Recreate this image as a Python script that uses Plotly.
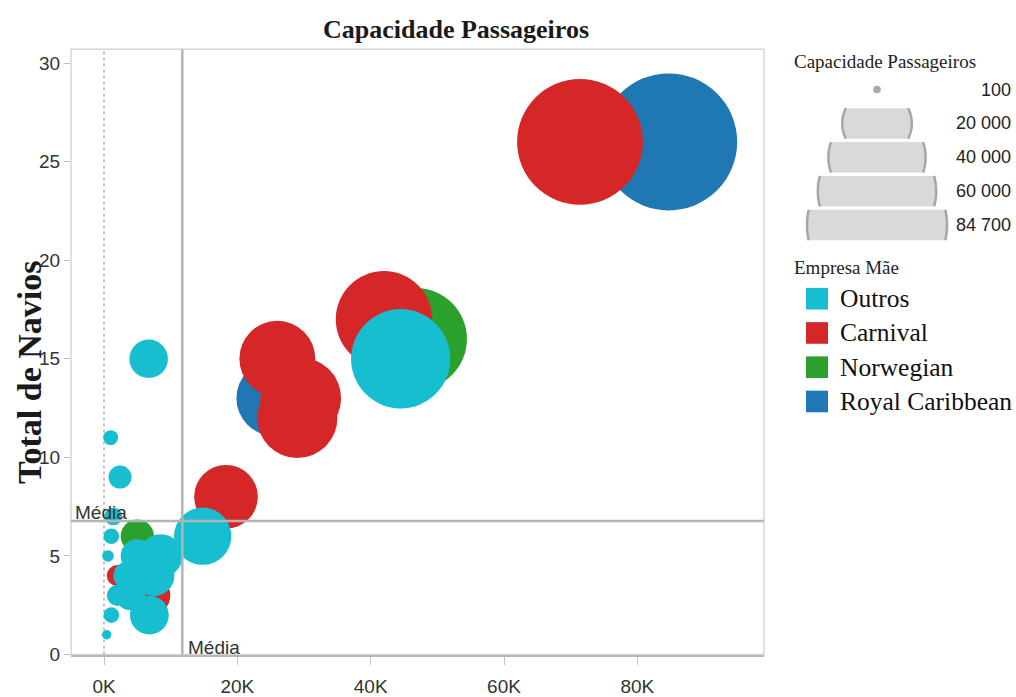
import math
import plotly.graph_objects as go

# ---- data -------------------------------------------------------------
companies = ["Outros", "Carnival", "Norwegian", "Royal Caribbean"]
company_colors = ["#17becf", "#d62728", "#2ca02c", "#1f77b4"]

outros_capacity = [44500, 14800, 6700, 1000, 2400, 1400, 1100, 600, 8500,
                   7500, 5000, 3500, 2000, 4000, 6800, 1100, 400]
outros_ships = [15, 6, 15, 11, 9, 7, 6, 5, 5, 4, 5, 4, 3, 3, 2, 2, 1]

carnival_capacity = [71400, 42000, 26000, 29500, 29000, 18300, 2000, 7000]
carnival_ships = [26, 17, 15, 13, 12, 8, 4, 3]

norwegian_capacity = [46800, 5000]
norwegian_ships = [16, 6]

royal_capacity = [84700, 25500]
royal_ships = [26, 13]

mean_capacity = 11750
mean_ships = 6.77

x_tick_values = [0, 20000, 40000, 60000, 80000]
x_tick_labels = ["0K", "20K", "40K", "60K", "80K"]
y_tick_values = [0, 5, 10, 15, 20, 25, 30]

size_legend_values = [100, 20000, 40000, 60000, 84700]
size_legend_labels = ["100", "20 000", "40 000", "60 000", "84 700"]

# ---- geometry / style ---------------------------------------------------
W, H = 1016, 697
PLOT_L, PLOT_R, PLOT_T, PLOT_B = 71, 764, 50, 665
MAX_BUBBLE_PX = 137
SERIF = "Liberation Serif"
SANS = "Liberation Sans"

max_capacity = max(royal_capacity + carnival_capacity + norwegian_capacity + outros_capacity)
# plotly area sizing: diameter = sqrt(2 * value / sizeref)
sizeref = 2.0 * max_capacity / MAX_BUBBLE_PX ** 2


def bubble_diameter(value):
    return math.sqrt(2.0 * value / sizeref)


def px(x):
    return x / W


def py(y):
    return 1 - y / H


series = {
    "Outros": (outros_capacity, outros_ships),
    "Carnival": (carnival_capacity, carnival_ships),
    "Norwegian": (norwegian_capacity, norwegian_ships),
    "Royal Caribbean": (royal_capacity, royal_ships),
}
color_of = dict(zip(companies, company_colors))

fig = go.Figure()

# draw back-to-front: Royal Caribbean, Norwegian, Carnival, Outros on top
for name in reversed(companies):
    cap, ships = series[name]
    fig.add_trace(go.Scatter(
        x=cap, y=ships, mode="markers", name=name,
        marker=dict(size=cap, sizemode="area", sizeref=sizeref,
                    color=color_of[name], opacity=1, line=dict(width=0)),
        hovertemplate=name + "<br>%{x:,} passageiros<br>%{y} navios<extra></extra>",
    ))

shapes = []
annotations = []

# pane border
shapes.append(dict(type="rect", xref="x domain", yref="y domain", x0=0, x1=1, y0=0, y1=1,
                   line=dict(color="#d6d6d6", width=1.5), layer="below"))
# zero line (dotted)
shapes.append(dict(type="line", xref="x", yref="y domain", x0=0, x1=0, y0=0, y1=1,
                   line=dict(color="#a0a0a0", width=1.2, dash="dot"), layer="below"))
# average reference lines
shapes.append(dict(type="line", xref="x", yref="y domain", x0=mean_capacity, x1=mean_capacity,
                   y0=0, y1=1, line=dict(color="#b4b4b4", width=2.5), layer="above"))
shapes.append(dict(type="line", xref="x domain", yref="y", x0=0, x1=1, y0=mean_ships,
                   y1=mean_ships, line=dict(color="#b4b4b4", width=2.5), layer="above"))

annotations.append(dict(text="Média", xref="x domain", yref="y", x=0, y=mean_ships,
                        xanchor="left", yanchor="bottom", xshift=2, yshift=-4, showarrow=False,
                        font=dict(family=SANS, size=19, color="#333")))
annotations.append(dict(text="Média", xref="x", yref="y domain", x=mean_capacity, y=0,
                        xanchor="left", yanchor="bottom", xshift=4, yshift=-5, showarrow=False,
                        font=dict(family=SANS, size=19, color="#333")))

# titles
annotations.append(dict(text="Capacidade Passageiros", xref="paper", yref="paper",
                        x=px(456), y=py(30), xanchor="center", yanchor="middle", showarrow=False,
                        font=dict(family=SERIF, size=26, color="#1a1a1a", weight="bold")))
annotations.append(dict(text="Total de Navios", xref="paper", yref="paper", textangle=-90,
                        x=px(29), y=py(378), xanchor="center", yanchor="middle", showarrow=False,
                        font=dict(family=SERIF, size=34, color="#1a1a1a", weight="bold")))

# ---- size legend ----------------------------------------------------------
annotations.append(dict(text="Capacidade Passageiros", xref="paper", yref="paper",
                        x=px(792), y=py(62), xanchor="left", yanchor="middle", showarrow=False,
                        font=dict(family=SERIF, size=19, color="#222")))

LEG_CX = 877
ROW0_Y = 91
ROW_STEP = 34.4
BAND_HALF = 15.5


def path_from(points, close):
    s = "M " + " L ".join(f"{px(x):.5f},{py(y):.5f}" for x, y in points)
    return s + (" Z" if close else "")


for i, (val, lab) in enumerate(zip(size_legend_values, size_legend_labels)):
    cy = ROW0_Y + i * ROW_STEP
    r = bubble_diameter(val) / 2 + 1.5
    if r <= BAND_HALF:
        shapes.append(dict(type="circle", xref="paper", yref="paper",
                           x0=px(LEG_CX - r), x1=px(LEG_CX + r), y0=py(cy + r), y1=py(cy - r),
                           fillcolor="#a9a9a9", line=dict(width=0)))
    else:
        a = math.asin(BAND_HALF / r)
        n = 24
        ts = [-a + 2 * a * k / n for k in range(n + 1)]
        right = [(LEG_CX + r * math.cos(t), cy + r * math.sin(t)) for t in ts]
        left = [(LEG_CX - r * math.cos(t), cy + r * math.sin(t)) for t in reversed(ts)]
        shapes.append(dict(type="path", xref="paper", yref="paper", path=path_from(right + left, True),
                           fillcolor="#d9d9d9", line=dict(width=0)))
        for arc in (right, left):
            shapes.append(dict(type="path", xref="paper", yref="paper", path=path_from(arc, False),
                               fillcolor="rgba(0,0,0,0)", line=dict(color="#a6a6a6", width=2.5)))
    annotations.append(dict(text=lab, xref="paper", yref="paper", x=px(1013), y=py(cy),
                            xanchor="right", yanchor="middle", showarrow=False,
                            font=dict(family=SANS, size=18, color="#222")))

# ---- colour legend ----------------------------------------------------------
annotations.append(dict(text="Empresa Mãe", xref="paper", yref="paper",
                        x=px(792), y=py(272), xanchor="left", yanchor="middle", showarrow=False,
                        font=dict(family=SERIF, size=19, color="#222")))
SQ = 22
for i, (name, col) in enumerate(zip(companies, company_colors)):
    cy = 303.5 + i * 34.8
    shapes.append(dict(type="rect", xref="paper", yref="paper",
                       x0=px(806), x1=px(806 + SQ), y0=py(cy + SQ / 2), y1=py(cy - SQ / 2),
                       fillcolor=col, line=dict(width=0)))
    annotations.append(dict(text=name, xref="paper", yref="paper", x=px(838), y=py(cy),
                            xanchor="left", yanchor="middle", showarrow=False,
                            font=dict(family=SERIF, size=25.5, color="#111")))

fig.update_layout(
    width=W, height=H, margin=dict(l=0, r=0, t=0, b=0),
    paper_bgcolor="white", plot_bgcolor="white", showlegend=False,
    shapes=shapes, annotations=annotations,
    xaxis=dict(domain=[px(PLOT_L), px(PLOT_R)], range=[-4950, 99000],
               tickvals=x_tick_values, ticktext=x_tick_labels,
               ticks="outside", ticklen=8, tickcolor="#c4c4c4", tickwidth=1,
               ticklabelstandoff=6,
               tickfont=dict(family=SANS, size=19, color="#333"),
               showgrid=False, zeroline=False, showline=True,
               linecolor="#b8b8b8", linewidth=2),
    yaxis=dict(domain=[py(PLOT_B), py(PLOT_T)], range=[0, 30.7],
               tickvals=y_tick_values, ticks="outside", ticklen=6,
               tickcolor="#bdbdbd", tickwidth=1,
               tickfont=dict(family=SANS, size=19, color="#333"),
               showgrid=False, zeroline=False, showline=False),
)

fig.write_html("out.html")
